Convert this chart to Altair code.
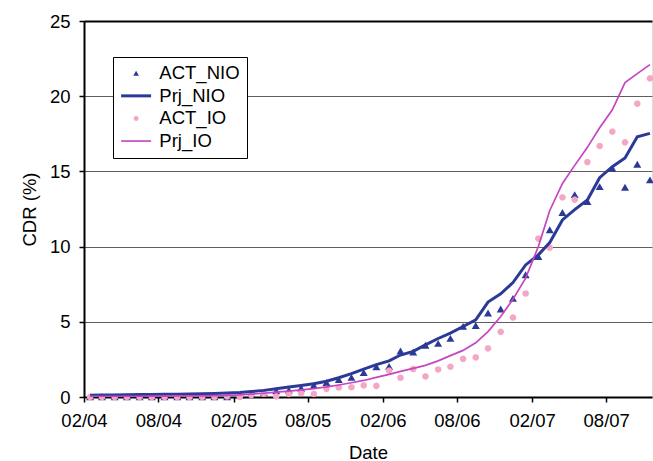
import math
import altair as alt
import pandas as pd

# ---- data (monthly, Feb 2004 .. Nov 2007) ----
start_year, start_month, n_months = 2004, 2, 46
series_names = ["ACT_NIO", "Prj_NIO", "ACT_IO", "Prj_IO"]

act_nio = [0, 0, 0, 0, 0, 0, 0, 0, 0, 0, 0, 0,
           0.1, 0.2, 0.3, 0.4, 0.45, 0.57, 0.78, 0.96, 1.15, 1.3, 1.62, 2.0,
           2.03, 3.05, 2.99, 3.43, 3.56, 3.89, 4.69, 4.75, 5.58, 5.84, 6.55, 8.12,
           9.34, 11.11, 12.26, 13.45, 12.99, 13.98, 15.2, 13.94, 15.47, 14.43]
prj_nio = [0.12, 0.13, 0.14, 0.15, 0.16, 0.17, 0.18, 0.19, 0.2, 0.21, 0.23, 0.26,
           0.3, 0.36, 0.44, 0.55, 0.66, 0.76, 0.88, 1.05, 1.28, 1.55, 1.85, 2.15,
           2.4, 2.79, 3.03, 3.47, 3.89, 4.25, 4.69, 5.13, 6.31, 6.86, 7.61, 8.78,
           9.45, 10.27, 11.77, 12.46, 13.1, 14.58, 15.31, 15.89, 17.3, 17.53]
act_io = [0, 0, 0, 0, 0, 0, 0, 0, 0, 0, 0, 0.04,
          0, 0.13, 0.22, 0.04, 0.2, 0.25, 0.2, 0.54, 0.63, 0.65, 0.77, 0.74,
          1.75, 1.28, 1.86, 1.37, 1.83, 2.01, 2.54, 2.63, 3.23, 4.33, 5.28, 6.88,
          10.53, 9.93, 13.27, 13.12, 15.62, 16.69, 17.64, 16.93, 19.5, 21.18]
prj_io = [0.05, 0.05, 0.05, 0.05, 0.05, 0.06, 0.06, 0.07, 0.07, 0.08, 0.09, 0.11,
          0.14, 0.19, 0.25, 0.32, 0.39, 0.47, 0.56, 0.67, 0.8, 0.95, 1.1, 1.3,
          1.5, 1.7, 1.9, 2.1, 2.4, 2.75, 3.1, 3.6, 4.35, 5.35, 6.5, 7.9,
          10.0, 12.4, 14.2, 15.4, 16.6, 17.9, 19.1, 20.9, 21.5, 22.1]

tick_dates = [(2004, 2), (2004, 8), (2005, 2), (2005, 8),
              (2006, 2), (2006, 8), (2007, 2), (2007, 8)]

colors = ["#2B3A97", "#2B3A97", "#F4A6C6", "#C645C0"]

# symbol paths (unit space): triangle, thick line, dot (polygon), thin line
_r = 0.33
_dot = "M" + "L".join(
    f"{_r * math.cos(2 * math.pi * k / 20):.4f},{_r * math.sin(2 * math.pi * k / 20):.4f}"
    for k in range(20)) + "Z"
shapes = ["M0,-0.34L0.38,0.32L-0.38,0.32Z",
          "M-2,-0.2L2,-0.2L2,0.2L-2,0.2Z",
          _dot,
          "M-2,-0.11L2,-0.11L2,0.11L-2,0.11Z"]

FONT = "Liberation Sans"
FS = 18.5

# ---- build table ----
dates = []
for k in range(n_months):
    y = start_year + (start_month - 1 + k) // 12
    m = (start_month - 1 + k) % 12 + 1
    dates.append(f"{y:04d}-{m:02d}-16")

rows = []
for name, vals in zip(series_names, [act_nio, prj_nio, act_io, prj_io]):
    for d, v in zip(dates, vals):
        rows.append({"date": d, "series": name, "value": v})
df = pd.DataFrame(rows)

legend = alt.Legend(
    title=None, orient="none", legendX=29, legendY=36,
    padding=7, rowPadding=3.6, symbolOffset=6.85, labelOffset=14,
    labelFont=FONT, labelFontSize=FS, labelColor="black", labelLimit=300,
    strokeColor="black", fillColor="white", symbolSize=225,
    symbolStrokeWidth=0, symbolOpacity=1,
)

color_scale = alt.Scale(domain=series_names, range=colors)
shape_scale = alt.Scale(domain=series_names, range=shapes)

x_enc = alt.X(
    "date:T",
    scale=alt.Scale(type="utc",
                    domain=[alt.DateTime(year=2004, month=2, date=1, utc=True),
                            alt.DateTime(year=2007, month=11, date=21, utc=True)]),
    axis=alt.Axis(
        values=[alt.DateTime(year=y, month=m, date=1, utc=True) for y, m in tick_dates],
        labelExpr="utcFormat(datum.value, '%m/%y')", grid=False,
        domainColor="black", domainWidth=2, tickColor="black", tickWidth=1.5, tickSize=5,
        labelFont=FONT, labelFontSize=FS, labelColor="black", labelBaseline="alphabetic",
        labelPadding=24, labelFlush=False, labelOverlap=False, labelBound=False,
        title="Date", titleFont=FONT, titleFontSize=FS, titleFontWeight="normal",
        titleColor="black", titleBaseline="alphabetic", titleX=284, titleY=61,
    ),
)

y_enc = alt.Y(
    "value:Q",
    scale=alt.Scale(domain=[0, 25], nice=False),
    axis=alt.Axis(
        values=[0, 5, 10, 15, 20, 25], grid=True,
        gridColor={"condition": {"test": "datum.value === 25", "value": "black"}, "value": "#5e5e5e"},
        gridWidth={"condition": {"test": "datum.value === 25", "value": 2}, "value": 1},
        domainColor="black", domainWidth=2, tickColor="black", tickWidth=1.5, tickSize=5,
        labelFont=FONT, labelFontSize=FS, labelColor="black", labelPadding=9,
        title="CDR (%)", titleFont=FONT, titleFontSize=FS, titleFontWeight="normal",
        titleColor="black", titleAngle=270, titleAlign="center", titleBaseline="middle",
        titleX=-55, titleY=188,
    ),
)

base = alt.Chart(df)

tri = base.transform_filter("datum.series == 'ACT_NIO'").mark_point(
    filled=True, opacity=1, strokeWidth=0, size=441).encode(
    x=x_enc, y=y_enc,
    color=alt.Color("series:N", scale=color_scale, legend=legend),
    shape=alt.Shape("series:N", scale=shape_scale, legend=legend),
)
dots = base.transform_filter("datum.series == 'ACT_IO'").mark_point(
    filled=True, opacity=1, strokeWidth=0, size=390).encode(
    x=x_enc, y=y_enc,
    color=alt.Color("series:N", scale=color_scale, legend=None),
    shape=alt.Shape("series:N", scale=shape_scale, legend=None),
)
line_nio = base.transform_filter("datum.series == 'Prj_NIO'").mark_line(strokeWidth=3).encode(
    x=x_enc, y=y_enc, color=alt.Color("series:N", scale=color_scale, legend=None))
line_io = base.transform_filter("datum.series == 'Prj_IO'").mark_line(strokeWidth=1.7).encode(
    x=x_enc, y=y_enc, color=alt.Color("series:N", scale=color_scale, legend=None))

chart = alt.layer(tri, dots, line_nio, line_io).properties(
    width=568, height=376,
    padding={"left": 84, "top": 21, "right": 1, "bottom": 64},
    autosize=alt.AutoSizeParams(type="none"),
).configure_view(stroke=None).configure(font=FONT, background="white")

chart.save("out.html", embed_options={"renderer": "svg", "actions": False})
